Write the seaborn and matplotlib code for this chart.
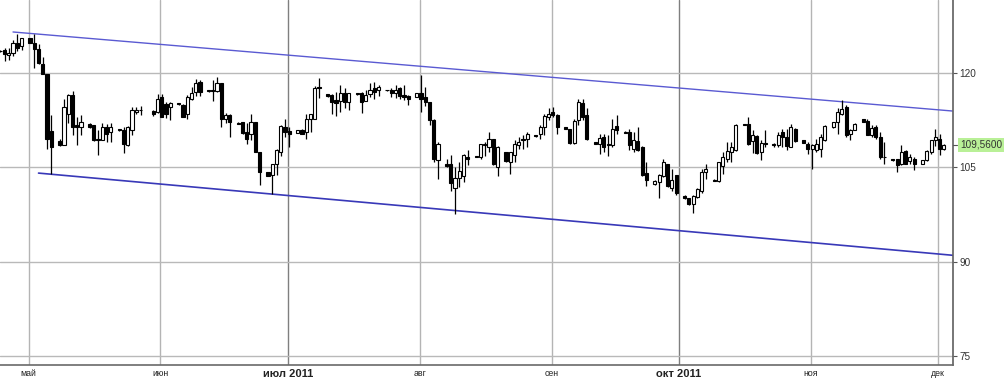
import numpy as np
import pandas as pd
import matplotlib
matplotlib.use("Agg")
import matplotlib.pyplot as plt
import seaborn as sns

# ---------------- data ----------------
start_date = "2011-04-24"
end_date = "2011-12-02"
missing_days = ["2011-05-29"]          # no session that Sunday; Saturdays never trade

opens = [
    123.6, 123.8, 123.0, 123.3, 124.9, 124.4,
    125.6, 124.9, 123.9, 121.5, 119.9, 110.8, 109.2, 108.6, 113.6, 116.5, 111.7, 111.5, 112.0, 111.8, 109.5, 109.4, 111.4, 110.6, 111.1, 111.0, 108.5, 111.0, 113.8, 114.1, 114.0, 113.8,
    116.3, 115.1, 114.7, 115.2, 115.0, 113.5, 115.9, 117.0, 118.6, 117.3, 117.3, 117.2, 118.5, 112.8, 113.4, 112.1, 112.2, 110.6, 110.3, 112.2, 107.4, 104.2, 103.8, 105.6, 107.5, 111.4,
    110.8, 110.5, 111.0, 110.7, 112.7, 112.8, 117.8, 116.7, 116.5, 115.7, 115.6, 116.8, 115.5, 116.9, 116.8, 115.6, 116.7, 117.7, 117.3, 117.3, 117.3, 116.8, 117.6, 116.6, 116.4, 116.2,
    116.8, 116.3, 115.5, 112.6, 106.2, 105.6, 105.6, 101.8, 103.3, 103.7, 106.7, 106.9, 106.7, 108.5, 108.3, 109.5, 105.1, 107.4, 105.9, 107.0, 108.5, 109.5, 109.5, 110.1, 110.3, 111.4, 113.0,
    113.9, 113.4, 111.4, 111.1, 108.9, 112.5, 115.2, 113.4, 109.0, 108.8, 109.9, 108.7, 108.6, 111.6, 110.7, 110.6, 107.9, 109.2, 108.3, 104.1, 102.3, 102.7, 103.6, 105.5, 101.7, 103.8,
    100.5, 100.1, 99.2, 100.3, 101.3, 104.2, 103.0, 102.9, 105.3, 106.3, 107.4, 107.8, 111.9, 111.9, 109.2, 110.0, 107.4, 108.9, 108.7, 108.5, 110.6, 109.9, 108.3, 111.2, 109.3, 108.8,
    108.0, 107.8, 108.0, 109.3, 111.4, 112.2, 113.5, 114.7, 110.4, 111.0, 112.7, 112.4, 110.2, 111.5, 109.9, 106.7, 106.3, 106.3, 105.5, 107.6, 106.1, 106.3, 105.5, 106.2, 107.4, 109.3,
    109.6, 107.9,
]
highs = [
    123.7, 124.1, 124.0, 125.3, 126.2, 125.6,
    125.7, 126.2, 124.7, 122.6, 119.9, 113.4, 109.5, 115.9, 116.7, 117.2, 113.0, 113.3, 112.1, 111.8, 111.0, 112.1, 112.0, 112.1, 111.2, 111.5, 111.6, 114.6, 114.6, 114.8, 114.2, 116.7,
    116.7, 115.5, 115.5, 115.2, 115.1, 116.5, 117.8, 119.1, 119.0, 117.4, 119.0, 119.4, 118.5, 113.7, 113.5, 112.2, 112.3, 112.1, 113.6, 112.3, 107.5, 104.3, 105.6, 107.9, 111.8, 112.7,
    111.5, 111.0, 111.2, 113.6, 113.6, 118.0, 119.3, 116.7, 116.7, 117.1, 118.2, 117.6, 116.9, 116.9, 117.0, 117.3, 118.4, 118.7, 118.1, 117.4, 117.6, 118.2, 117.8, 118.1, 116.5, 116.8,
    119.7, 117.8, 115.5, 112.8, 109.1, 106.3, 107.0, 105.1, 105.8, 107.1, 107.8, 106.9, 108.8, 109.1, 110.7, 109.6, 108.4, 107.5, 107.5, 109.4, 109.9, 110.2, 110.7, 110.1, 111.8, 113.6, 114.4,
    114.6, 113.6, 111.5, 111.2, 112.7, 115.9, 115.9, 114.5, 109.1, 110.4, 110.4, 110.2, 112.8, 113.4, 110.8, 111.1, 110.7, 111.5, 108.4, 105.8, 103.0, 103.9, 106.4, 105.6, 104.7, 103.8,
    100.6, 100.2, 100.6, 101.7, 104.8, 105.5, 103.1, 105.9, 107.5, 109.0, 109.1, 111.9, 112.0, 113.1, 111.0, 110.2, 109.4, 111.0, 108.9, 110.7, 111.2, 111.2, 111.9, 111.3, 109.3, 109.1,
    108.8, 109.5, 110.4, 111.7, 112.2, 114.4, 115.7, 114.9, 111.2, 112.1, 112.7, 112.7, 111.8, 111.8, 110.7, 109.1, 106.4, 106.3, 108.5, 107.8, 107.1, 106.6, 106.2, 107.8, 109.4, 111.2,
    110.3, 108.8,
]
lows = [
    123.4, 122.0, 122.2, 122.8, 123.5, 123.7,
    124.8, 120.9, 121.5, 119.9, 108.0, 103.9, 108.4, 108.5, 112.1, 110.2, 108.5, 110.2, 111.3, 109.2, 107.0, 109.4, 109.1, 109.1, 110.8, 107.3, 108.4, 110.2, 113.5, 113.4, 113.2, 113.7,
    113.0, 112.9, 112.5, 115.0, 113.0, 112.8, 115.8, 116.4, 116.4, 117.1, 115.6, 117.1, 111.4, 112.1, 109.9, 111.9, 110.3, 108.7, 109.4, 107.4, 102.2, 103.6, 100.8, 103.8, 106.8, 109.9,
    108.3, 110.5, 110.3, 109.5, 110.7, 112.7, 116.0, 116.3, 113.6, 113.2, 113.9, 114.4, 114.2, 116.6, 113.7, 115.6, 116.3, 115.9, 116.4, 117.2, 116.2, 116.0, 115.9, 115.7, 114.9, 116.2,
    113.9, 114.8, 111.8, 105.8, 103.1, 105.1, 101.3, 97.5, 101.9, 102.7, 105.4, 106.7, 106.4, 106.8, 107.5, 105.4, 103.7, 105.9, 103.9, 105.9, 108.0, 107.9, 108.2, 109.9, 109.5, 110.2, 112.6,
    113.1, 110.3, 111.2, 108.8, 108.8, 111.8, 112.5, 109.4, 108.8, 107.2, 107.5, 106.9, 108.2, 110.4, 110.5, 107.8, 107.5, 107.7, 103.6, 102.1, 102.2, 100.2, 103.5, 101.9, 101.3, 100.6,
    100.0, 99.0, 97.7, 100.2, 101.0, 103.1, 102.8, 102.7, 103.9, 105.9, 105.9, 107.7, 111.7, 108.6, 107.3, 107.2, 106.2, 108.3, 108.3, 108.3, 108.3, 107.8, 108.2, 109.1, 108.9, 107.1,
    104.8, 107.5, 106.7, 109.2, 111.3, 110.3, 113.4, 109.9, 109.3, 110.9, 112.3, 110.1, 109.8, 109.6, 106.4, 105.6, 106.1, 104.3, 105.4, 105.5, 105.6, 104.6, 105.5, 106.1, 107.1, 108.4,
    107.0, 107.8,
]
closes = [
    123.5, 123.1, 123.3, 124.9, 124.0, 125.6,
    124.9, 123.9, 121.6, 119.9, 109.6, 108.2, 108.5, 114.6, 116.5, 111.4, 111.4, 112.3, 111.5, 109.3, 109.3, 111.4, 110.4, 111.4, 110.9, 108.7, 111.5, 114.2, 114.2, 114.2, 113.5, 115.9,
    113.1, 113.5, 115.2, 115.1, 113.1, 116.2, 116.8, 118.4, 117.1, 117.2, 117.2, 118.5, 112.7, 113.3, 112.2, 112.0, 110.5, 109.6, 112.3, 107.5, 104.3, 103.7, 105.5, 107.8, 111.6, 110.7,
    110.3, 111.0, 110.4, 112.8, 113.5, 117.7, 117.6, 116.4, 115.5, 115.2, 116.8, 115.5, 116.8, 116.7, 115.5, 116.5, 117.4, 117.0, 117.8, 117.3, 116.8, 117.3, 116.4, 116.3, 115.9, 116.8,
    115.9, 115.5, 112.6, 106.4, 108.8, 105.3, 102.5, 103.3, 104.5, 107.0, 106.3, 106.7, 108.7, 108.7, 109.5, 105.5, 108.2, 106.0, 107.4, 108.7, 109.1, 109.4, 110.3, 110.0, 111.4, 113.2, 113.6,
    113.4, 111.5, 111.2, 108.9, 112.4, 115.4, 113.1, 109.5, 108.8, 109.7, 108.3, 108.6, 111.2, 110.9, 110.5, 108.5, 109.3, 107.8, 103.8, 103.0, 102.9, 103.8, 105.9, 102.1, 103.0, 100.9,
    100.1, 99.2, 100.5, 101.5, 104.2, 104.7, 102.8, 105.8, 106.6, 107.6, 108.3, 111.8, 111.7, 108.7, 110.2, 107.3, 108.9, 108.7, 108.5, 110.2, 109.9, 108.4, 111.4, 109.2, 108.9, 108.0,
    108.5, 108.7, 109.8, 111.6, 112.2, 113.9, 114.3, 110.1, 110.9, 112.0, 112.3, 110.2, 111.3, 109.8, 106.6, 106.6, 106.2, 105.4, 107.5, 105.6, 106.7, 105.5, 106.2, 107.6, 109.3, 109.9,
    107.9, 108.6,
]

month_starts = ["2011-05-01", "2011-06-01", "2011-07-01", "2011-08-01",
                "2011-09-01", "2011-10-01", "2011-11-01", "2011-12-01"]
month_labels = ["май", "июн", "июл 2011", "авг", "сен", "окт 2011", "ноя", "дек"]
bold_labels = ["июл 2011", "окт 2011"]
price_ticks = [75, 90, 105, 120]
price_tick_labels = ["75", "90", "105", "120"]
last_price_text = "109,5600"

channel_upper_dates = ["2011-04-27", "2011-12-04"]
channel_upper_vals = [126.6, 114.0]
channel_lower_dates = ["2011-05-03", "2011-12-04"]
channel_lower_vals = [104.1, 91.0]

view_start = "2011-04-23 22:30"
view_end = "2011-12-04 04:00"
y_range = (73.5, 131.7)

# ---------------- layout helpers ----------------
origin = pd.Timestamp("2011-05-01")


def to_day(values):
    return ((pd.to_datetime(values) - origin) / pd.Timedelta(days=1)).values.astype(float)


days = pd.date_range(start_date, end_date, freq="D")
days = days[(days.dayofweek != 5) & ~days.isin(pd.to_datetime(missing_days))]
assert len(days) == len(opens) == len(highs) == len(lows) == len(closes)
x = to_day(days)

o = np.array(opens)
h = np.array(highs)
l = np.array(lows)
c = np.array(closes)

# ---------------- figure ----------------
sns.set_style("white")
plt.rcParams["font.family"] = ["Liberation Sans", "DejaVu Sans"]

W, H = 1005, 382
fig = plt.figure(figsize=(W / 100, H / 100), dpi=100)
ax = fig.add_axes([0, 17 / H, 953 / W, 365 / H])

# grid
ax.set_yticks(price_ticks)
ax.set_yticklabels(price_tick_labels)
ax.grid(axis="y", color="#b9b9b9", lw=1.0, zorder=0)
mpos = to_day(month_starts) - 0.3
for pos, lab in zip(mpos, month_labels):
    col = "#7f7f7f" if lab in bold_labels else "#b4b4b4"
    ax.axvline(pos, color=col, lw=1.0, zorder=0.5)

# channel lines
up_df = pd.DataFrame({"x": to_day(channel_upper_dates), "y": channel_upper_vals})
lo_df = pd.DataFrame({"x": to_day(channel_lower_dates), "y": channel_lower_vals})
sns.lineplot(data=up_df, x="x", y="y", ax=ax, color="#5a5ad2", lw=1.0, estimator=None, zorder=2)
sns.lineplot(data=lo_df, x="x", y="y", ax=ax, color="#3838b8", lw=1.2, estimator=None, zorder=2)

# candles
ax.vlines(x, l, h, color="black", lw=0.9, zorder=3)
up = c >= o
bottom = np.minimum(o, c)
height = np.abs(c - o)
ax.bar(x[up], height[up], bottom=bottom[up], width=0.72, facecolor="white",
       edgecolor="black", lw=0.8, zorder=4)
ax.bar(x[~up], height[~up], bottom=bottom[~up], width=0.72, facecolor="black",
       edgecolor="black", lw=0.8, zorder=4)

# limits
ax.set_xlim(to_day([view_start])[0], to_day([view_end])[0])
ax.set_ylim(*y_range)
ax.set_xlabel("")
ax.set_ylabel("")

# axes styling
for s in ["top", "left"]:
    ax.spines[s].set_visible(False)
ax.spines["right"].set_color("#5f5f5f")
ax.spines["right"].set_linewidth(1.2)
ax.spines["bottom"].set_color("#6a6a6a")
ax.spines["bottom"].set_linewidth(1.2)

ax.yaxis.tick_right()
ax.tick_params(axis="y", which="both", right=True, left=False, length=3, width=0.8,
               color="#555555", labelsize=7.2, labelcolor="#333333", pad=1.5)

ax.set_xticks(mpos)
ax.set_xticklabels(month_labels)
ax.tick_params(axis="x", length=0, pad=3, labelsize=6.3, labelcolor="#222222")
for t in ax.get_xticklabels():
    if t.get_text() in bold_labels:
        t.set_fontweight("bold")
        t.set_fontsize(8)

# last price marker
last = c[-1]
ax.annotate(last_price_text, xy=(1.0, last), xycoords=ax.get_yaxis_transform(),
            xytext=(7, 0), textcoords="offset pixels", va="center", ha="left",
            fontsize=7.2, color="#333333",
            bbox=dict(boxstyle="square,pad=0.22", fc="#b9f097", ec="none"),
            annotation_clip=False, zorder=5)
ax.plot([1.0, 1.0045], [last, last], transform=ax.get_yaxis_transform(), color="#555555",
        lw=0.8, clip_on=False, zorder=10)

fig.savefig("out.png", dpi=100)
